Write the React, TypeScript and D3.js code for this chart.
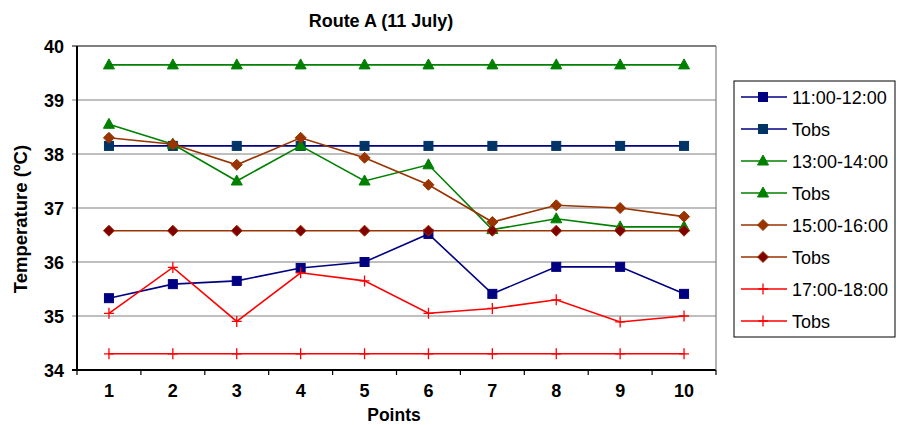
import React from "react";
import * as d3 from "d3";

const title = "Route A (11 July)";
const points = [1, 2, 3, 4, 5, 6, 7, 8, 9, 10];
const yTicks = [34, 35, 36, 37, 38, 39, 40];

const s1112 = [35.33, 35.59, 35.65, 35.89, 36.0, 36.52, 35.41, 35.91, 35.91, 35.41];
const tobs1112 = [38.15, 38.15, 38.15, 38.15, 38.15, 38.15, 38.15, 38.15, 38.15, 38.15];
const s1314 = [38.55, 38.18, 37.5, 38.15, 37.5, 37.8, 36.6, 36.8, 36.65, 36.65];
const tobs1314 = [39.65, 39.65, 39.65, 39.65, 39.65, 39.65, 39.65, 39.65, 39.65, 39.65];
const s1516 = [38.3, 38.18, 37.8, 38.3, 37.93, 37.43, 36.74, 37.05, 37.0, 36.84];
const tobs1516 = [36.58, 36.58, 36.58, 36.58, 36.58, 36.58, 36.58, 36.58, 36.58, 36.58];
const s1718 = [35.05, 35.9, 34.9, 35.8, 35.65, 35.05, 35.14, 35.3, 34.89, 35.0];
const tobs1718 = [34.3, 34.3, 34.3, 34.3, 34.3, 34.3, 34.3, 34.3, 34.3, 34.3];

type Series = { name: string; values: number[]; line: string; fill: string; stroke: string; marker: string };

const series: Series[] = [
  { name: "11:00-12:00", values: s1112, line: "#000080", fill: "#000080", stroke: "#000080", marker: "square" },
  { name: "Tobs", values: tobs1112, line: "#000080", fill: "#003366", stroke: "#003366", marker: "square" },
  { name: "13:00-14:00", values: s1314, line: "#008000", fill: "#008000", stroke: "#008000", marker: "triangle" },
  { name: "Tobs", values: tobs1314, line: "#008000", fill: "#008000", stroke: "#008000", marker: "triangle" },
  { name: "15:00-16:00", values: s1516, line: "#993300", fill: "#993300", stroke: "#993300", marker: "diamond" },
  { name: "Tobs", values: tobs1516, line: "#993300", fill: "#800000", stroke: "#993300", marker: "diamond" },
  { name: "17:00-18:00", values: s1718, line: "#FF0000", fill: "none", stroke: "#FF0000", marker: "cross" },
  { name: "Tobs", values: tobs1718, line: "#FF0000", fill: "none", stroke: "#FF0000", marker: "cross" },
];

const W = 898, H = 425;
const pl = 77, pr = 716, pt = 46, pb = 370;

function Marker({ kind, x, y, fill, stroke }: { kind: string; x: number; y: number; fill: string; stroke: string }) {
  if (kind === "square") return <rect x={x - 4.5} y={y - 4.5} width={9} height={9} fill={fill} stroke={stroke} strokeWidth={1} />;
  if (kind === "triangle") return <path d={`M${x},${y - 6}L${x + 5.5},${y + 4}L${x - 5.5},${y + 4}Z`} fill={fill} stroke={stroke} strokeWidth={1} />;
  if (kind === "diamond") return <path d={`M${x},${y - 5.5}L${x + 5.5},${y}L${x},${y + 5.5}L${x - 5.5},${y}Z`} fill={fill} stroke={stroke} strokeWidth={1} />;
  return <path d={`M${x - 5},${y}H${x + 5}M${x},${y - 5.5}V${y + 5.5}`} stroke={stroke} strokeWidth={1.3} fill="none" />;
}

export default function App() {
  const x = d3.scaleBand<number>().domain(points).range([pl, pr]);
  const y = d3.scaleLinear().domain([34, 40]).range([pb, pt]);
  const cx = (p: number) => (x(p) as number) + x.bandwidth() / 2;
  const line = d3.line<number>().x((_, i) => cx(points[i])).y((v) => y(v));
  const font = "'Liberation Sans', Arial, sans-serif";
  const legX = 734, legY = 81, legW = 161, legH = 256;
  const rowH = 32;
  return (
    <svg width={W} height={H} style={{ position: "absolute", left: 0, top: 0 }} fontFamily={font}>
      <rect width={W} height={H} fill="#fff" />
      <text x={381} y={27} textAnchor="middle" fontWeight="bold" fontSize={18}>{title}</text>
      {yTicks.map((t) => (
        <g key={t}>
          <line x1={pl - 5} x2={pr} y1={y(t)} y2={y(t)} stroke={t === 40 || t === 34 ? "#000" : "#808080"} strokeWidth={t === 34 ? 2 : 1.2} />
          <text x={pl - 13} y={y(t) + 6.5} textAnchor="end" fontWeight="bold" fontSize={18}>{t}</text>
        </g>
      ))}
      <line x1={pr} x2={pr} y1={pt} y2={pb} stroke="#808080" strokeWidth={1.2} />
      <line x1={pl} x2={pl} y1={pt} y2={pb + 1} stroke="#000" strokeWidth={2} />
      {d3.range(11).map((k) => {
        const xx = pl + k * x.bandwidth();
        return <line key={k} x1={xx} x2={xx} y1={pb} y2={pb + 5} stroke="#000" strokeWidth={1.2} />;
      })}
      {points.map((p) => (
        <text key={p} x={cx(p)} y={pb + 27} textAnchor="middle" fontWeight="bold" fontSize={18}>{p}</text>
      ))}
      <text x={394} y={421} textAnchor="middle" fontWeight="bold" fontSize={17.5}>Points</text>
      <text transform={`translate(27,${219}) rotate(-90)`} textAnchor="middle" fontWeight="bold" fontSize={18.5}>Temperature (ºC)</text>
      {series.map((s, i) => (
        <g key={i}>
          <path d={line(s.values) || ""} fill="none" stroke={s.line} strokeWidth={1.6} />
          {s.values.map((v, j) => (
            <Marker key={j} kind={s.marker} x={cx(points[j])} y={y(v)} fill={s.fill} stroke={s.stroke} />
          ))}
        </g>
      ))}
      <rect x={legX} y={legY} width={legW} height={legH} fill="#fff" stroke="#000" strokeWidth={1} />
      {series.map((s, i) => {
        const yy = legY + 16 + i * rowH;
        return (
          <g key={i}>
            <line x1={741} x2={787} y1={yy} y2={yy} stroke={s.line} strokeWidth={1.6} />
            <Marker kind={s.marker} x={763} y={yy} fill={s.fill} stroke={s.stroke} />
            <text x={792} y={yy + 7} fontSize={18}>{s.name}</text>
          </g>
        );
      })}
    </svg>
  );
}
